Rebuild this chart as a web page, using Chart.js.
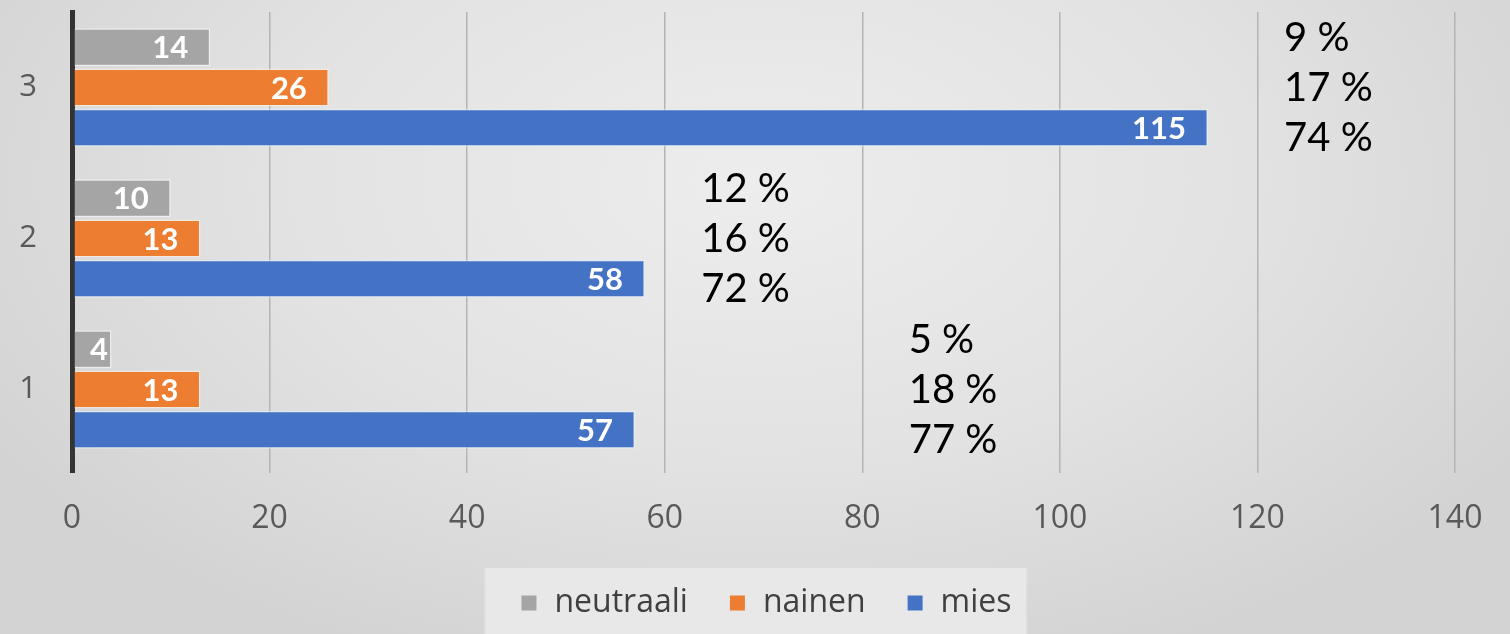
<!DOCTYPE html>
<html>
<head>
<meta charset="utf-8">
<script src="https://cdn.jsdelivr.net/npm/chart.js@4/dist/chart.umd.min.js"></script>
<style>
  html, body { margin: 0; padding: 0; }
  body {
    width: 1510px; height: 634px; overflow: hidden;
    background: radial-gradient(ellipse 900px 520px at 760px 180px, #ededed 0%, #e2e2e2 55%, #d3d3d3 100%);
  }
  #wrap { width: 1510px; height: 634px; }
</style>
</head>
<body>
<div id="wrap"><canvas id="myChart" width="1510" height="634"></canvas></div>
<script>
'use strict';

// data
const categories = ['3', '2', '1'];
const neutraali = [14, 10, 4];
const nainen = [26, 13, 13];
const mies = [115, 58, 57];
const xTicks = [0, 20, 40, 60, 80, 100, 120, 140];

// where the percentage notes start (x value), per category
const noteAnchors = [123, 64, 85];

const ctx = document.getElementById('myChart').getContext('2d');

// white value labels inside the bar ends
const valueLabels = {
  id: 'valueLabels',
  afterDatasetsDraw(chart) {
    const c = chart.ctx;
    c.save();
    c.font = 'bold 31px Lato';
    c.fillStyle = '#ffffff';
    c.textBaseline = 'middle';
    chart.data.datasets.forEach((ds, di) => {
      chart.getDatasetMeta(di).data.forEach((bar, i) => {
        const txt = String(ds.data[i]);
        const w = c.measureText(txt).width;
        const len = bar.x - bar.base;
        if (w + 40 > len) {
          c.textAlign = 'center';
          c.fillText(txt, bar.base + len / 2 + 6, bar.y + 1);
        } else {
          c.textAlign = 'right';
          c.fillText(txt, bar.x - 22, bar.y + 1);
        }
      });
    });
    c.restore();
  }
};

// percentage notes beside each group
const percentNotes = {
  id: 'percentNotes',
  afterDraw(chart) {
    const c = chart.ctx;
    const xs = chart.scales.x;
    const ys = chart.scales.y;
    c.save();
    c.font = '40px Lato';
    c.fillStyle = '#000000';
    c.textAlign = 'left';
    c.textBaseline = 'middle';
    categories.forEach((cat, i) => {
      const series = [neutraali[i], nainen[i], mies[i]];
      const total = series.reduce((a, b) => a + b, 0);
      const cy = ys.getPixelForValue(i);
      const x = xs.getPixelForValue(noteAnchors[i]);
      series.forEach((v, k) => {
        const pct = Math.round(v / total * 100);
        c.fillText(pct + ' %', x - 3, cy + 1 + (k - 1) * 50);
      });
    });
    c.restore();
  }
};

// legend in a light box under the axis
const boxLegend = {
  id: 'boxLegend',
  afterDraw(chart) {
    const c = chart.ctx;
    const area = chart.chartArea;
    const cy = 603;
    const sq = 15;
    const gapText = 18;
    const gapItem = 42;
    c.save();
    c.font = '32px "Open Sans"';
    const items = chart.data.datasets.map(ds => ({
      text: ds.label,
      color: ds.backgroundColor,
      w: c.measureText(ds.label).width
    }));
    const total = items.reduce((s, it) => s + sq + gapText + it.w, 0) + gapItem * (items.length - 1);
    let x = (area.left + area.right) / 2 + 3 - total / 2;

    c.fillStyle = '#e8e8e8';
    c.strokeStyle = '#dcdcdc';
    c.lineWidth = 1;
    c.fillRect(x - 37, 567, total + 52, 80);
    c.strokeRect(x - 37 + 0.5, 567.5, total + 52, 80);

    c.textAlign = 'left';
    c.textBaseline = 'middle';
    items.forEach(it => {
      c.fillStyle = it.color;
      c.fillRect(x, cy - sq / 2, sq, sq);
      c.fillStyle = '#404040';
      c.fillText(it.text, x + sq + gapText, cy);
      x += sq + gapText + it.w + gapItem;
    });
    c.restore();
  }
};

const data = {
  labels: categories,
  datasets: [
    {
      label: 'neutraali',
      data: neutraali,
      backgroundColor: '#a5a5a5',
      borderColor: 'rgba(255,255,255,0.5)',
      borderWidth: 1.5
    },
    {
      label: 'nainen',
      data: nainen,
      backgroundColor: '#ed7d31',
      borderColor: 'rgba(255,240,225,0.6)',
      borderWidth: 1.5
    },
    {
      label: 'mies',
      data: mies,
      backgroundColor: '#4472c4',
      borderColor: 'rgba(230,240,255,0.6)',
      borderWidth: 1.5
    }
  ]
};

const options = {
  indexAxis: 'y',
  responsive: false,
  animation: false,
  layout: {
    padding: { top: 12, right: 55, left: 0, bottom: 69 }
  },
  datasets: {
    bar: {
      categoryPercentage: 0.8,
      barPercentage: 0.94
    }
  },
  plugins: {
    legend: {
      display: false
    },
    tooltip: {
      enabled: false
    }
  },
  scales: {
    x: {
      min: 0,
      max: 140,
      afterBuildTicks: function(scale) {
        scale.ticks = xTicks.map(v => ({ value: v }));
      },
      afterFit: function(scale) {
        scale.height = 100;
      },
      border: {
        display: false
      },
      grid: {
        color: c => c.tick && c.tick.value === 0 ? '#333333' : '#b4b4b4',
        lineWidth: c => c.tick && c.tick.value === 0 ? 5 : 1.5,
        tickLength: 8
      },
      ticks: {
        color: '#595959',
        font: { family: 'Open Sans', size: 32 },
        padding: 27
      }
    },
    y: {
      afterFit: function(scale) {
        scale.width = 72;
        scale.paddingTop = 0;
        scale.paddingBottom = 0;
      },
      border: {
        display: true,
        color: '#333333',
        width: 5
      },
      grid: {
        display: false
      },
      ticks: {
        color: '#595959',
        font: { family: 'Open Sans', size: 31 },
        padding: 27
      }
    }
  }
};

new Chart(ctx, {
  type: 'bar',
  data: data,
  options: options,
  plugins: [valueLabels, percentNotes, boxLegend]
});
</script>
</body>
</html>
